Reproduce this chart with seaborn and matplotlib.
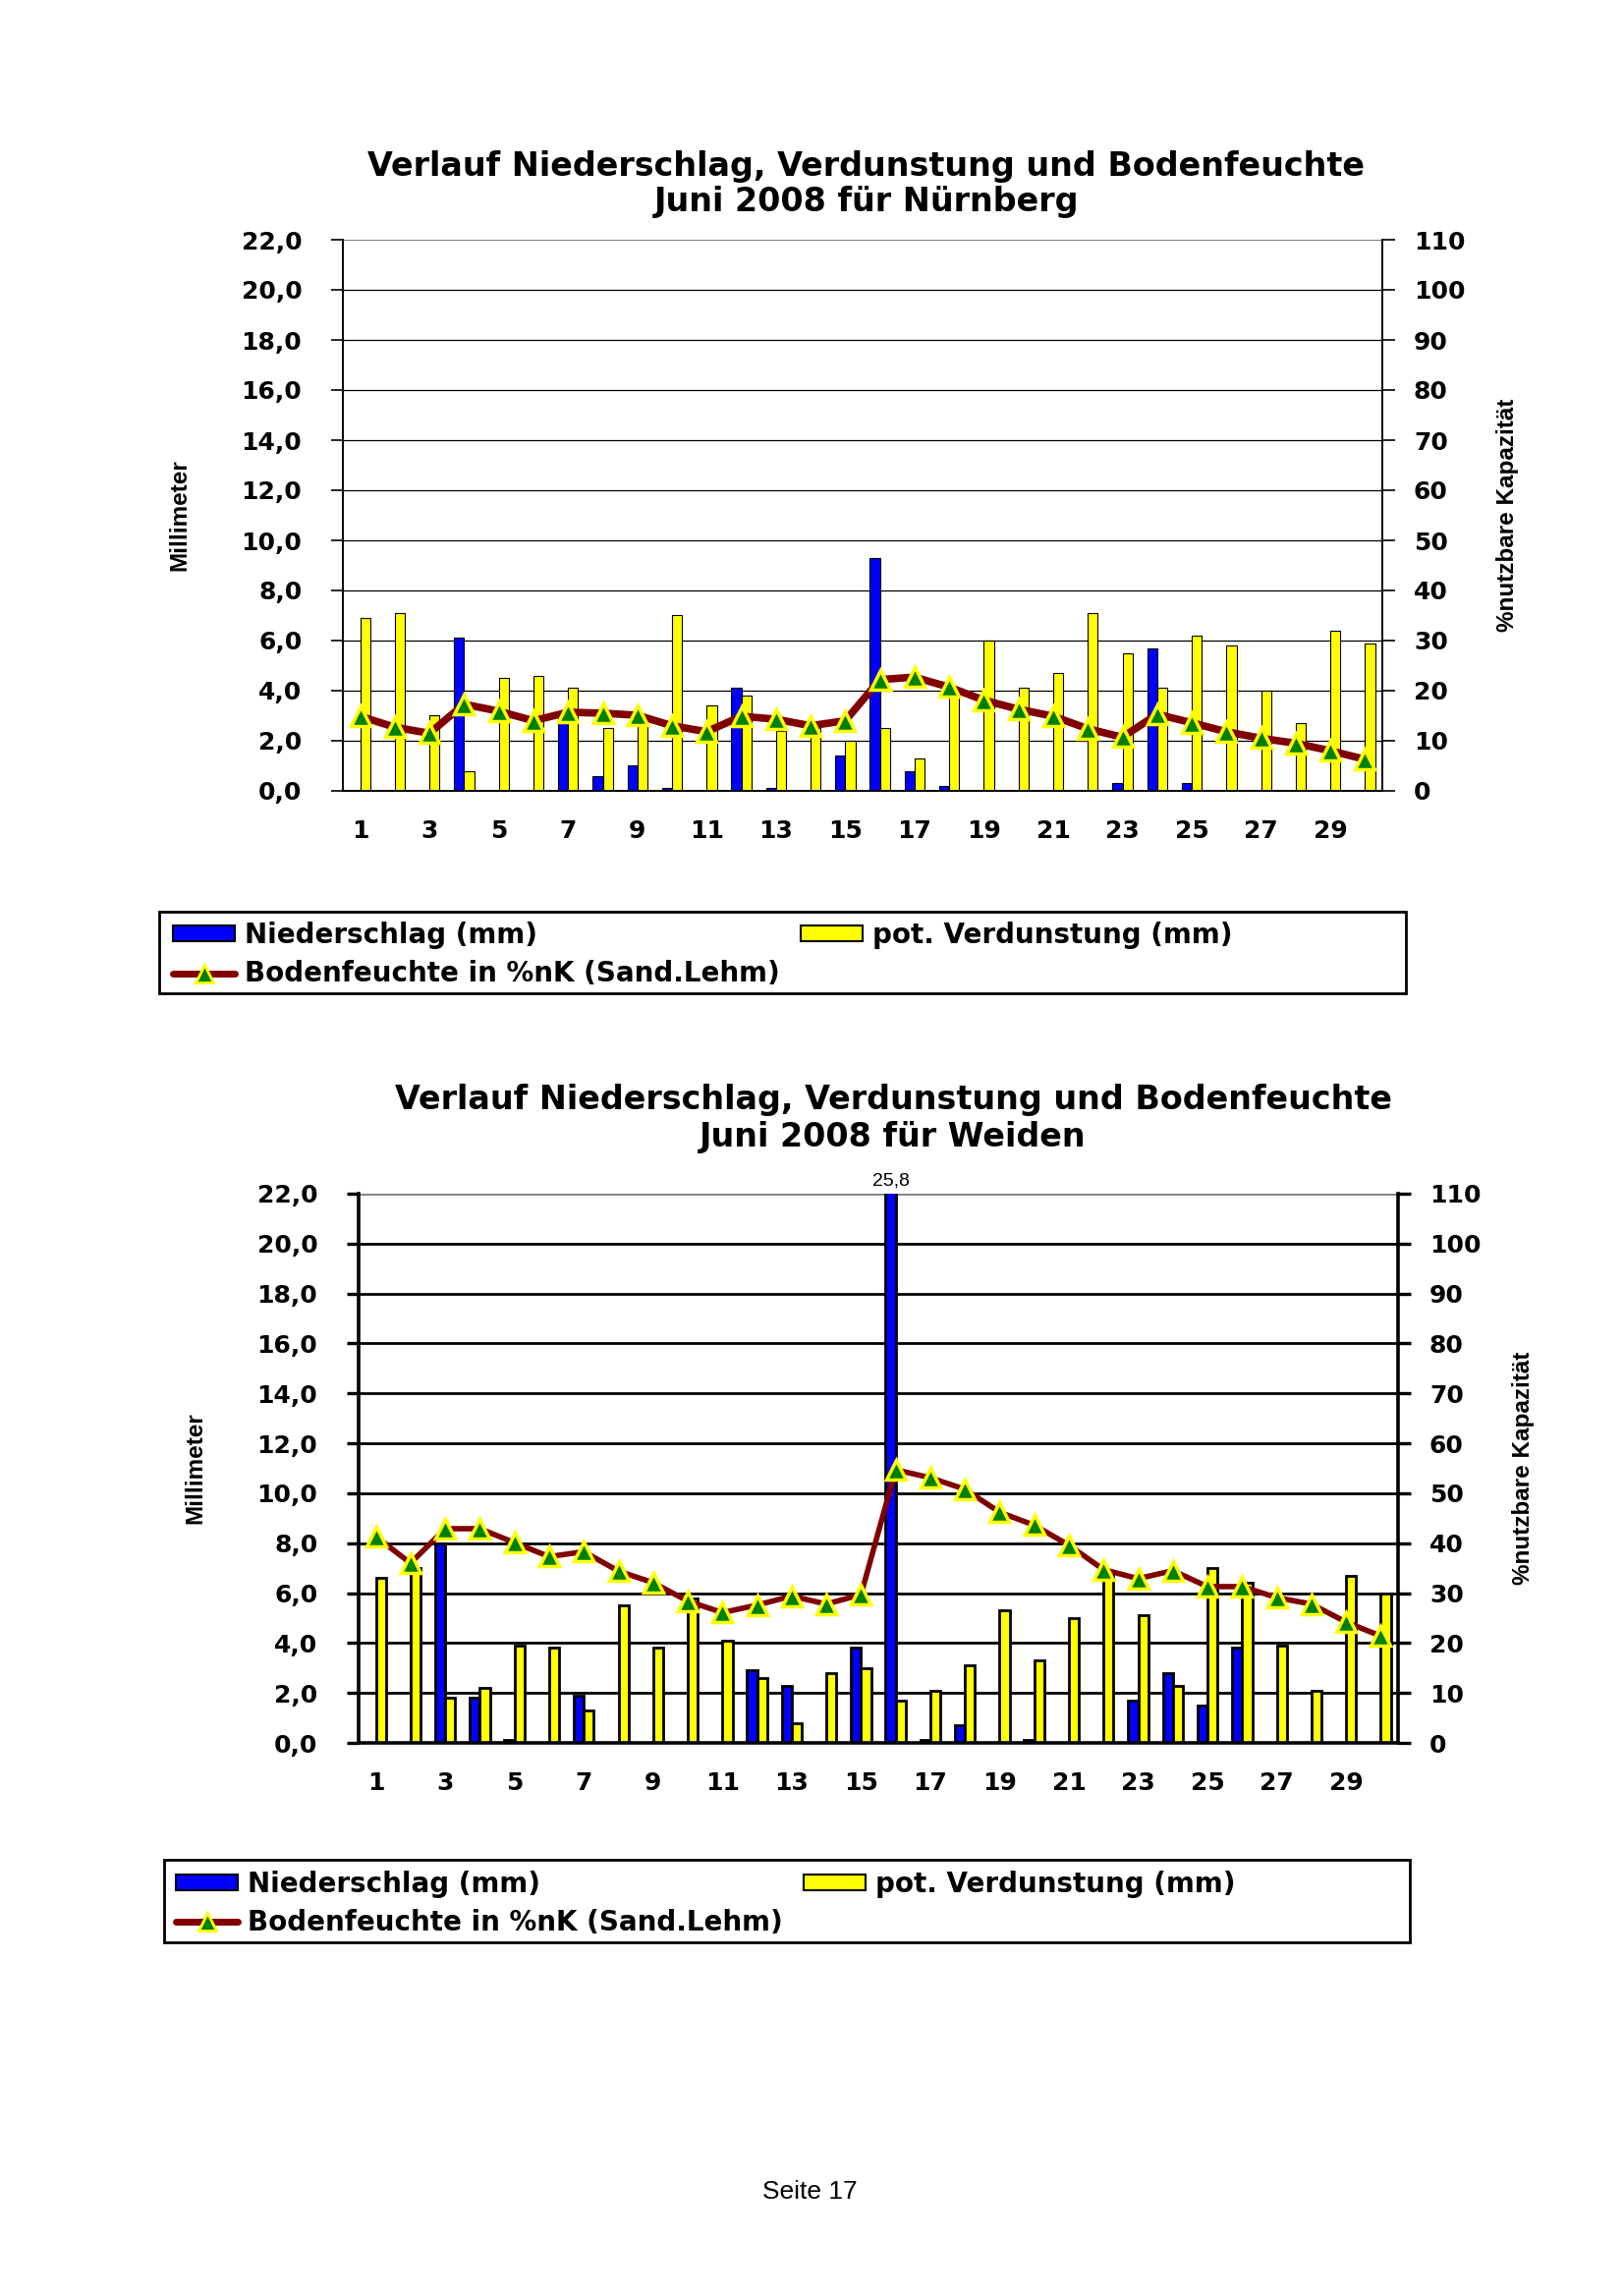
import matplotlib
matplotlib.use("Agg")
import matplotlib.pyplot as plt
import matplotlib.patches as mpatches
from matplotlib.lines import Line2D
import seaborn as sns
import pandas as pd
import numpy as np

sns.set_style("white")
plt.rcParams['font.family'] = ['DejaVu Sans']
plt.rcParams['font.weight'] = 'bold'
plt.rcParams['axes.labelweight'] = 'bold'
for k in ['text.color', 'axes.labelcolor', 'xtick.color', 'ytick.color']:
    plt.rcParams[k] = 'black'

# Tage im Juni 2008
tage = list(range(1, 31))

# Nuernberg (mm bzw. % nK)
nbg_niederschlag = [0.0, 0.0, 0.0, 6.1, 0.0, 0.0, 2.9, 0.6, 1.0, 0.1,
                    0.0, 4.1, 0.1, 0.0, 1.4, 9.3, 0.8, 0.2, 0.0, 0.0,
                    0.0, 0.0, 0.3, 5.7, 0.3, 0.0, 0.0, 0.0, 0.0, 0.0]
nbg_verdunstung = [6.9, 7.1, 3.0, 0.8, 4.5, 4.6, 4.1, 2.5, 3.0, 7.0,
                   3.4, 3.8, 2.4, 2.5, 2.0, 2.5, 1.3, 4.1, 6.0, 4.1,
                   4.7, 7.1, 5.5, 4.1, 6.2, 5.8, 4.0, 2.7, 6.4, 5.9]
nbg_boden = [14.9, 12.7, 11.5, 17.3, 15.9, 14.0, 15.7, 15.5, 15.1, 13.0,
             11.8, 14.9, 14.3, 13.0, 14.0, 22.2, 22.7, 20.7, 18.1, 16.3,
             14.9, 12.4, 10.7, 15.3, 13.6, 11.8, 10.5, 9.5, 8.0, 6.3]

# Weiden
wei_niederschlag = [0.0, 0.0, 8.0, 1.8, 0.1, 0.0, 1.9, 0.0, 0.0, 0.0,
                    0.0, 2.9, 2.3, 0.0, 3.8, 25.8, 0.1, 0.7, 0.0, 0.1,
                    0.0, 0.0, 1.7, 2.8, 1.5, 3.8, 0.0, 0.0, 0.0, 0.0]
wei_verdunstung = [6.6, 7.0, 1.8, 2.2, 3.9, 3.8, 1.3, 5.5, 3.8, 5.8,
                   4.1, 2.6, 0.8, 2.8, 3.0, 1.7, 2.1, 3.1, 5.3, 3.3,
                   5.0, 6.9, 5.1, 2.3, 7.0, 6.4, 3.9, 2.1, 6.7, 6.0]
wei_boden = [41.3, 36.0, 42.9, 42.9, 40.1, 37.3, 38.3, 34.4, 32.1, 28.4,
             26.1, 27.6, 29.4, 27.8, 29.7, 54.7, 53.1, 50.8, 46.2, 43.6,
             39.6, 34.7, 32.9, 34.5, 31.3, 31.3, 29.1, 27.8, 24.2, 21.4]

serien = ['Niederschlag (mm)', 'pot. Verdunstung (mm)']
boden_label = 'Bodenfeuchte in %nK (Sand.Lehm)'
BLAU, GELB, ROT, GRUEN = '#0000FF', '#FFFF00', '#800000', '#008000'


def panel(ax, niederschlag, verdunstung, boden, dick):
    df = pd.DataFrame({
        'Tag': [str(t) for t in tage] * 2,
        'Reihe': [serien[0]] * 30 + [serien[1]] * 30,
        'mm': niederschlag + verdunstung,
    })
    lw = 2.0 if dick else 0.8
    sns.barplot(data=df, x='Tag', y='mm', hue='Reihe', hue_order=serien,
                palette=[BLAU, GELB], saturation=1, width=0.58,
                edgecolor='black', linewidth=lw, errorbar=None, legend=False,
                ax=ax)
    ax.set_axisbelow(True)
    ax.set_ylim(0, 22)
    yt = np.arange(0, 23, 2)
    ax.set_yticks(yt)
    ax.set_yticklabels([f"{v:.1f}".replace('.', ',') for v in yt])
    ax.yaxis.grid(True, color='black', linewidth=2.0 if dick else 0.9)
    ax.get_ygridlines()[-1].set_color('gray')
    ax.set_xticks(range(0, 30, 2))
    ax.set_xticklabels([str(t) for t in tage[::2]])
    ax.set_xticks(np.arange(-0.5, 30, 1), minor=True)
    ax.tick_params(axis='x', which='major', length=0, pad=21, labelsize=18)
    ax.tick_params(axis='x', which='minor', direction='inout', length=11,
                   width=lw + 0.4)
    ax.tick_params(axis='y', direction='out', length=9, width=lw + 0.4,
                   pad=21, labelsize=18)
    ax.set_xlabel('')
    ax.set_ylabel('Millimeter', fontfamily='Liberation Sans', fontsize=17.5,
                  fontweight='bold')
    ax.yaxis.set_label_coords(-0.1465, 0.5)
    for s in ['top', 'right']:
        ax.spines[s].set_visible(False)
    for s in ['left', 'bottom']:
        ax.spines[s].set_linewidth(lw + 0.6)
        ax.spines[s].set_color('black')

    ax2 = ax.twinx()
    sns.lineplot(x=np.array(tage) - 1, y=boden, ax=ax2, color=ROT,
                 linewidth=5.5 if not dick else 4, marker='^', markersize=15,
                 markerfacecolor=GRUEN, markeredgecolor=GELB,
                 markeredgewidth=2.5)
    ax2.set_ylim(0, 110)
    ax2.set_yticks(range(0, 111, 10))
    ax2.tick_params(axis='y', direction='out', length=9, width=lw + 0.4,
                    pad=14, labelsize=18)
    ax2.set_ylabel('%nutzbare Kapazität', fontfamily='Liberation Sans',
                   fontsize=17.5, fontweight='bold', rotation=90)
    ax2.yaxis.set_label_coords(1.11, 0.5)
    for s in ['top', 'left', 'bottom']:
        ax2.spines[s].set_visible(False)
    ax2.spines['right'].set_linewidth(lw + 0.6)
    ax2.spines['right'].set_color('black')
    ax.set_xlim(-0.5, 29.5)
    return ax2


def legende(fig, box, anker):
    x0, y0, x1, y1 = box
    fig.add_artist(mpatches.Rectangle((x0 / 1653, 1 - y1 / 2337),
                                      (x1 - x0) / 1653, (y1 - y0) / 2337,
                                      transform=fig.transFigure, fill=False,
                                      edgecolor='black', linewidth=2))
    handles = [mpatches.Patch(facecolor=BLAU, edgecolor='black', linewidth=1.5),
               Line2D([], [], color=ROT, linewidth=5, marker='^', markersize=13,
                      markerfacecolor=GRUEN, markeredgecolor=GELB,
                      markeredgewidth=2),
               mpatches.Patch(facecolor=GELB, edgecolor='black', linewidth=1.5)]
    labels = [serien[0], boden_label, serien[1]]
    fig.legend(handles, labels, ncol=2, loc='upper left',
               bbox_to_anchor=(anker[0] / 1653, 1 - anker[1] / 2337),
               frameon=False, fontsize=20, handlelength=2.27, handleheight=0.5,
               handletextpad=0.37, columnspacing=0.75, labelspacing=0.41,
               borderpad=0, borderaxespad=0)


fig = plt.figure(figsize=(16.53, 23.37), dpi=100)

ax_a = fig.add_axes([349 / 1653, 1 - 805 / 2337, 1058 / 1653, 561 / 2337])
panel(ax_a, nbg_niederschlag, nbg_verdunstung, nbg_boden, dick=False)
fig.text(882 / 1653, 1 - 169 / 2337,
         'Verlauf Niederschlag, Verdunstung und Bodenfeuchte',
         ha='center', va='center', fontsize=24)
fig.text(882 / 1653, 1 - 206 / 2337, 'Juni 2008 für Nürnberg',
         ha='center', va='center', fontsize=24)
legende(fig, (162, 928, 1431, 1011), (176, 938))

ax_b = fig.add_axes([365 / 1653, 1 - 1774 / 2337, 1058 / 1653, 559 / 2337])
panel(ax_b, wei_niederschlag, wei_verdunstung, wei_boden, dick=True)
fig.text(909 / 1653, 1 - 1120 / 2337,
         'Verlauf Niederschlag, Verdunstung und Bodenfeuchte',
         ha='center', va='center', fontsize=24)
fig.text(909 / 1653, 1 - 1157 / 2337, 'Juni 2008 für Weiden',
         ha='center', va='center', fontsize=24)
legende(fig, (167, 1893, 1435, 1977), (179, 1904))

# Wert ueber dem abgeschnittenen Balken
balken = ax_b.containers[0][15]
ax_b.annotate(f"{wei_niederschlag[15]:.1f}".replace('.', ','),
              xy=(balken.get_x() + balken.get_width() / 2, 22),
              xytext=(0, 3), textcoords='offset points', ha='center',
              va='bottom', fontsize=14, fontweight='normal',
              fontfamily='Liberation Sans', annotation_clip=False)

fig.text(824 / 1653, 1 - 2231 / 2337, 'Seite 17', ha='center', va='center',
         fontsize=19, fontweight='normal', fontfamily='Liberation Sans')

fig.savefig('out.png', dpi=100)
